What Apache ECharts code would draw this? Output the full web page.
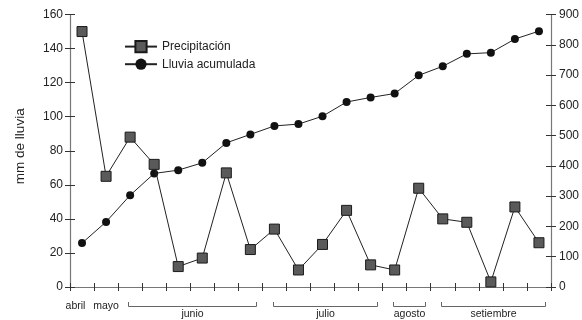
<!DOCTYPE html>
<html>
<head>
<meta charset="utf-8">
<script src="https://cdn.jsdelivr.net/npm/echarts@6/dist/echarts.min.js"></script>
<style>html,body{margin:0;padding:0;background:#fff}#c{width:582px;height:320px}</style>
</head>
<body>
<div id="c"></div>
<script>
// month of each observation (one per point)
const months = ['abril','mayo','junio','junio','junio','junio','junio','junio',
  'julio','julio','julio','julio','julio','agosto','agosto',
  'setiembre','setiembre','setiembre','setiembre','setiembre'];
const precipitacion = [150, 65, 88, 72, 12, 17, 67, 22, 34, 10, 25, 45, 13, 10, 58, 40, 38, 3, 47, 26];
const acumulada = [145, 215, 303, 375, 386, 410, 476, 504, 532, 538, 564, 611, 626, 639, 699, 729, 770, 774, 819, 845];
const leftTicks = [0, 160, 20];
const rightTicks = [0, 900, 100];

const FONT = 'Liberation Sans, Arial, Helvetica, sans-serif';
const TXT = '#222';
const AXIS = '#777';
const TICK = '#333';

const idx = months.map((m, i) => String(i));
// show individual labels only for months with a single observation
const counts = {};
months.forEach(m => counts[m] = (counts[m] || 0) + 1);

const chart = echarts.init(document.getElementById('c'), null, {renderer: 'canvas'});
const baseY = (pos, range) => ({
  type: 'value', position: pos, min: range[0], max: range[1], interval: range[2],
  splitLine: {show: false},
  axisLine: {show: true, lineStyle: {color: AXIS, width: 1.2}},
  axisTick: {show: true, length: 5, lineStyle: {color: TICK}},
  axisLabel: {color: TXT, fontFamily: FONT, fontSize: 12, margin: 7}
});
const innerY = (pos, range) => ({
  type: 'value', position: pos, min: range[0], max: range[1], interval: range[2],
  splitLine: {show: false}, axisLine: {show: false},
  axisTick: {show: true, inside: true, length: 5, lineStyle: {color: TICK}},
  axisLabel: {show: false}
});

const option = {
  animation: false,
  backgroundColor: '#fff',
  grid: {left: 70, right: 30, top: 14.5, bottom: 33, containLabel: false},
  legend: {
    orient: 'vertical', left: 119, top: 35, itemGap: 5, itemWidth: 32, itemHeight: 14,
    textStyle: {color: TXT, fontFamily: FONT, fontSize: 12},
    data: ['Precipitación', 'Lluvia acumulada']
  },
  xAxis: [{
    type: 'category', data: idx, boundaryGap: true, position: 'bottom',
    axisLine: {show: true, lineStyle: {color: AXIS, width: 1.2}},
    axisTick: {show: true, length: 4, interval: 0, lineStyle: {color: TICK}},
    axisLabel: {
      interval: 0, color: TXT, fontFamily: FONT, fontSize: 10.5, margin: 14,
      formatter: (v) => {
        const i = +v, m = months[i];
        if (counts[m] !== 1) return '';
        return i === 0 ? '{first|' + m + '}' : m;
      },
      rich: {first: {color: TXT, fontFamily: FONT, fontSize: 10.5, padding: [0, 13, 0, 0]}}
    }
  }, {
    type: 'category', data: idx, boundaryGap: true, position: 'bottom', offset: 0,
    axisLine: {show: false},
    axisTick: {show: true, inside: true, length: 4, interval: 0, lineStyle: {color: TICK}},
    axisLabel: {show: false}
  }],
  yAxis: [
    Object.assign(baseY('left', leftTicks), {
      name: 'mm de lluvia', nameLocation: 'middle', nameGap: 43, nameRotate: 90,
      nameTextStyle: {color: TXT, fontFamily: FONT, fontSize: 13.5, padding: [0, 0, 0, 9]}
    }),
    Object.assign(baseY('right', rightTicks), {axisLabel: {color: TXT, fontFamily: FONT, fontSize: 12, margin: 8}}),
    innerY('left', leftTicks),
    innerY('right', rightTicks)
  ],
  series: [{
    name: 'Precipitación', type: 'line', xAxisIndex: 0, yAxisIndex: 0,
    data: precipitacion, symbol: 'rect', symbolSize: 10,
    lineStyle: {color: '#222', width: 1},
    itemStyle: {color: '#5a5a5a', borderColor: '#1a1a1a', borderWidth: 1},
    z: 3
  }, {
    name: 'Lluvia acumulada', type: 'line', xAxisIndex: 0, yAxisIndex: 1,
    data: acumulada, symbol: 'circle', symbolSize: 8,
    lineStyle: {color: '#222', width: 1},
    itemStyle: {color: '#111', borderColor: '#111', borderWidth: 0},
    z: 2
  }]
};
chart.setOption(option);

// month brackets for months with several observations
function drawBrackets() {
  const p0 = chart.convertToPixel({xAxisIndex: 0}, 0);
  const p1 = chart.convertToPixel({xAxisIndex: 0}, 1);
  const band = p1 - p0;
  const axisY = chart.convertToPixel({yAxisIndex: 0}, 0);
  const groups = [];
  months.forEach((m, i) => {
    if (counts[m] < 2) return;
    const g = groups.length && groups[groups.length - 1].name === m ? groups[groups.length - 1] : null;
    if (g) g.end = i; else groups.push({name: m, start: i, end: i});
  });
  const elems = [];
  const yLine = axisY + 19.5, yTop = axisY + 15;
  groups.forEach(g => {
    const cs = chart.convertToPixel({xAxisIndex: 0}, g.start);
    const ce = chart.convertToPixel({xAxisIndex: 0}, g.end);
    const x1 = Math.round(cs - 0.07 * band) + 0.5;
    const x2 = Math.round(ce + 0.25 * band) + 0.5;
    elems.push({
      type: 'polyline', silent: true,
      shape: {points: [[x1, yTop], [x1, yLine], [x2, yLine], [x2, yTop]]},
      style: {stroke: '#666', lineWidth: 1, fill: null}
    });
    elems.push({
      type: 'text', silent: true, x: (x1 + x2) / 2, y: yLine + 7.5,
      style: {text: g.name, fill: TXT, font: '10.5px ' + FONT, align: 'center', verticalAlign: 'middle'}
    });
  });
  chart.setOption({graphic: elems});
}
drawBrackets();
</script>
</body>
</html>
